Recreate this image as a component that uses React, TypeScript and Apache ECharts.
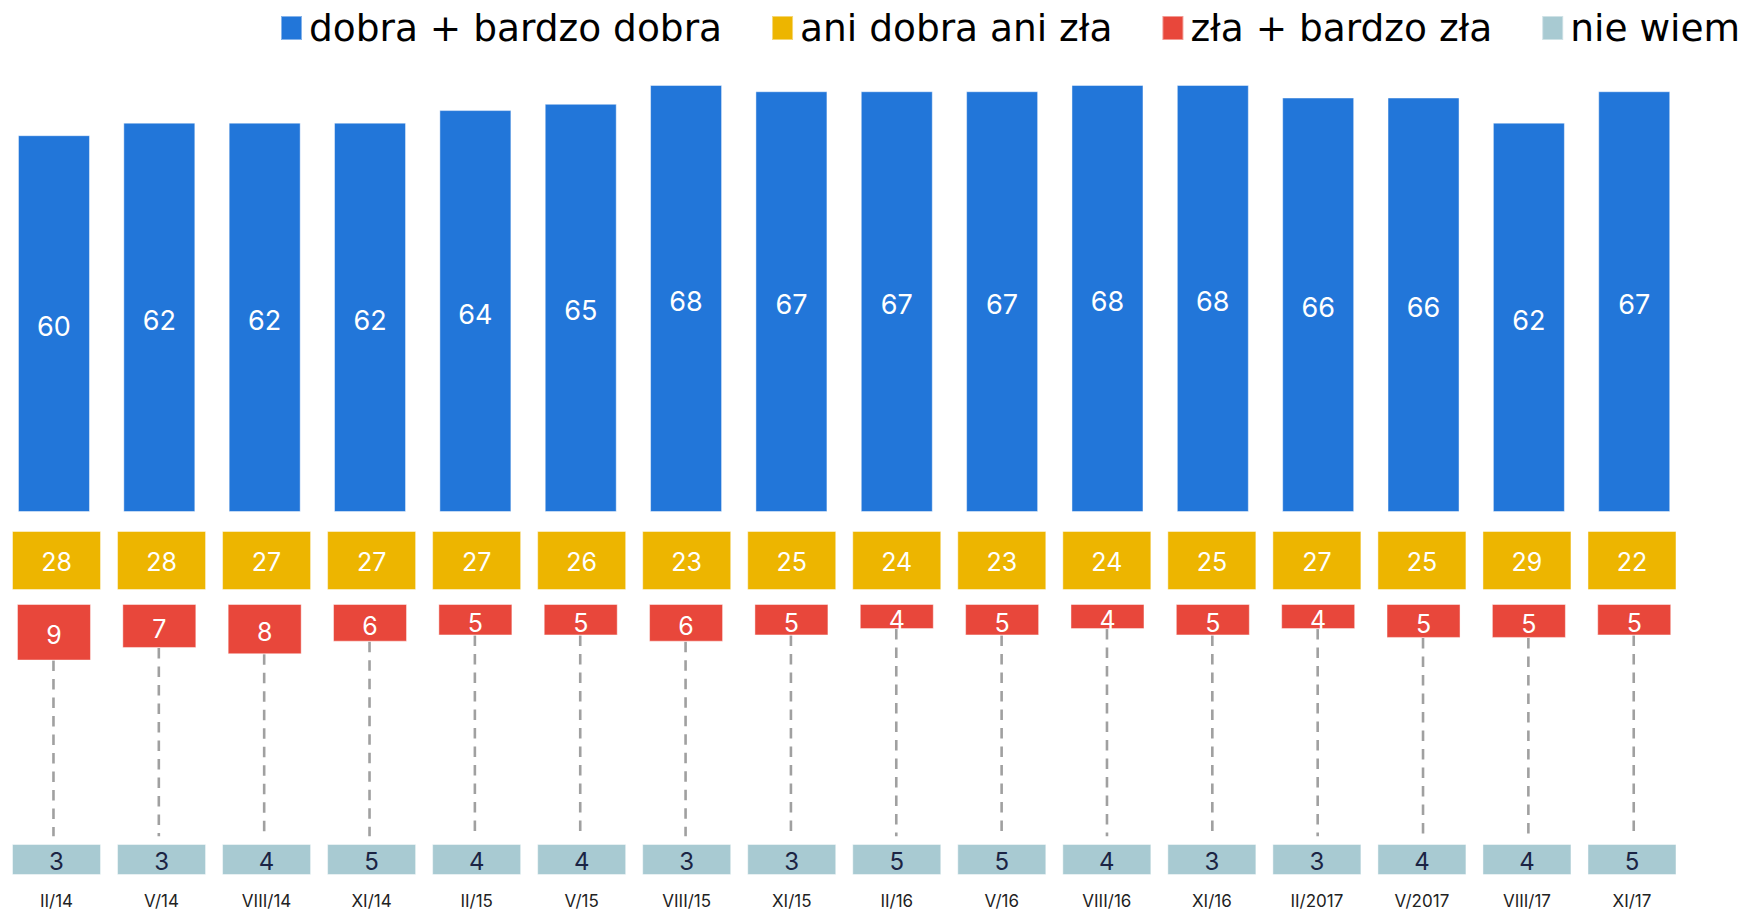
import React, { useEffect, useRef } from "react";
import * as echarts from "echarts";

const categories = ["II/14", "V/14", "VIII/14", "XI/14", "II/15", "V/15", "VIII/15", "XI/15", "II/16", "V/16", "VIII/16", "XI/16", "II/2017", "V/2017", "VIII/17", "XI/17"];
const good = [60, 62, 62, 62, 64, 65, 68, 67, 67, 67, 68, 68, 66, 66, 62, 67];
const neutral = [28, 28, 27, 27, 27, 26, 23, 25, 24, 23, 24, 25, 27, 25, 29, 22];
const bad = [9, 7, 8, 6, 5, 5, 6, 5, 4, 5, 4, 5, 4, 5.4, 5.4, 5];
const dontKnow = [3, 3, 4, 5, 4, 4, 3, 3, 5, 5, 4, 3, 3, 4, 4, 5];
const seriesNames = ["dobra + bardzo dobra", "ani dobra ani zła", "zła + bardzo zła", "nie wiem"];

const BLUE = "#2276D9";
const YELLOW = "#EDB500";
const RED = "#E8473B";
const GRAY = "#A8CAD2";
const NUM_FONT = "Inter";
const BAD_MAX = 37;

export default function App() {
  const ref = useRef<HTMLDivElement>(null);
  useEffect(() => {
    if (!ref.current) return;
    const chart = echarts.init(ref.current, undefined, { renderer: "svg" });
    const hiddenX = (gi: number) => ({
      type: "category",
      data: categories,
      gridIndex: gi,
      axisLine: { show: false },
      axisTick: { show: false },
      axisLabel: { show: false },
      splitLine: { show: false },
    });
    const hiddenY = (gi: number, min: number, max: number, inverse = false) => ({
      type: "value",
      gridIndex: gi,
      min,
      max,
      inverse,
      show: false,
      splitLine: { show: false },
    });
    const border = { borderColor: "rgba(255,255,255,0.45)", borderWidth: 1 };
    const option: any = {
      animation: false,
      legend: {
        top: 4,
        left: 275,
        width: 1470,
        itemWidth: 21,
        itemHeight: 24,
        itemGap: 49,
        icon: "rect",
        textStyle: { fontFamily: "DejaVu Sans", fontSize: 37.5, color: "#000", padding: [0, 0, 0, 2] },
        data: seriesNames,
      },
      grid: [
        { left: 1.3, width: 1685.6, top: 72.4, height: 439.6 },
        { left: 4, width: 1680.5, top: 531, height: 59 },
        { left: 1.3, width: 1685.6, top: 604, height: BAD_MAX * 6.28 },
        { left: 4, width: 1680.5, top: 844, height: 31 },
      ],
      xAxis: [
        hiddenX(0),
        hiddenX(1),
        hiddenX(2),
        {
          type: "category",
          data: categories,
          gridIndex: 3,
          axisLine: { show: false },
          axisTick: { show: false },
          splitLine: { show: false },
          axisLabel: { show: true, margin: 17, fontFamily: NUM_FONT, fontSize: 17, color: "#222" },
        },
      ],
      yAxis: [hiddenY(0, 0, 70), hiddenY(1, 0, 1), hiddenY(2, 0, BAD_MAX, true), hiddenY(3, 0, 1)],
      series: [
        {
          name: seriesNames[0],
          type: "bar",
          xAxisIndex: 0,
          yAxisIndex: 0,
          barWidth: 72,
          data: good,
          itemStyle: { color: BLUE, ...border },
          label: { show: true, position: "inside", color: "#fff", fontFamily: NUM_FONT, fontSize: 27, offset: [0, 3] },
        },
        {
          name: seriesNames[1],
          type: "bar",
          xAxisIndex: 1,
          yAxisIndex: 1,
          barWidth: 89,
          data: neutral.map(() => 1),
          itemStyle: { color: YELLOW, ...border },
          label: {
            show: true,
            position: "inside",
            color: "#fff",
            fontFamily: NUM_FONT,
            fontSize: 25,
            offset: [0, 1],
            formatter: (p: any) => String(neutral[p.dataIndex]),
          },
        },
        {
          name: "dash",
          type: "custom",
          xAxisIndex: 2,
          yAxisIndex: 2,
          silent: true,
          data: bad,
          renderItem: (params: any, api: any) => {
            const i = api.value(0);
            const v = api.value(1);
            const p1 = api.coord([i, v]);
            const p2 = api.coord([i, BAD_MAX]);
            return {
              type: "line",
              shape: { x1: p1[0] - 0.5, y1: p1[1], x2: p2[0] - 0.5, y2: p2[1] },
              style: { stroke: "#A0A0A0", lineWidth: 2.6, lineDash: [10.5, 8] },
            };
          },
          encode: { x: 0, y: 1 },
        },
        {
          name: seriesNames[2],
          type: "bar",
          xAxisIndex: 2,
          yAxisIndex: 2,
          barWidth: 74,
          data: bad,
          itemStyle: { color: RED, ...border },
          label: {
            show: true,
            position: "inside",
            color: "#fff",
            fontFamily: NUM_FONT,
            fontSize: 25,
            offset: [0, 3],
            formatter: (p: any) => String(Math.round(p.value)),
          },
        },
        {
          name: seriesNames[3],
          type: "bar",
          xAxisIndex: 3,
          yAxisIndex: 3,
          barWidth: 89,
          data: dontKnow.map(() => 1),
          itemStyle: { color: GRAY, ...border },
          label: {
            show: true,
            position: "inside",
            color: "#1B2444",
            fontFamily: NUM_FONT,
            fontSize: 24,
            offset: [0, 2],
            formatter: (p: any) => String(dontKnow[p.dataIndex]),
          },
        },
      ],
    };
    chart.setOption(option);
    return () => chart.dispose();
  }, []);
  return (
    <div
      ref={ref}
      style={{ position: "fixed", left: 0, top: 0, width: 1750, height: 911, background: "#fff" }}
    />
  );
}
